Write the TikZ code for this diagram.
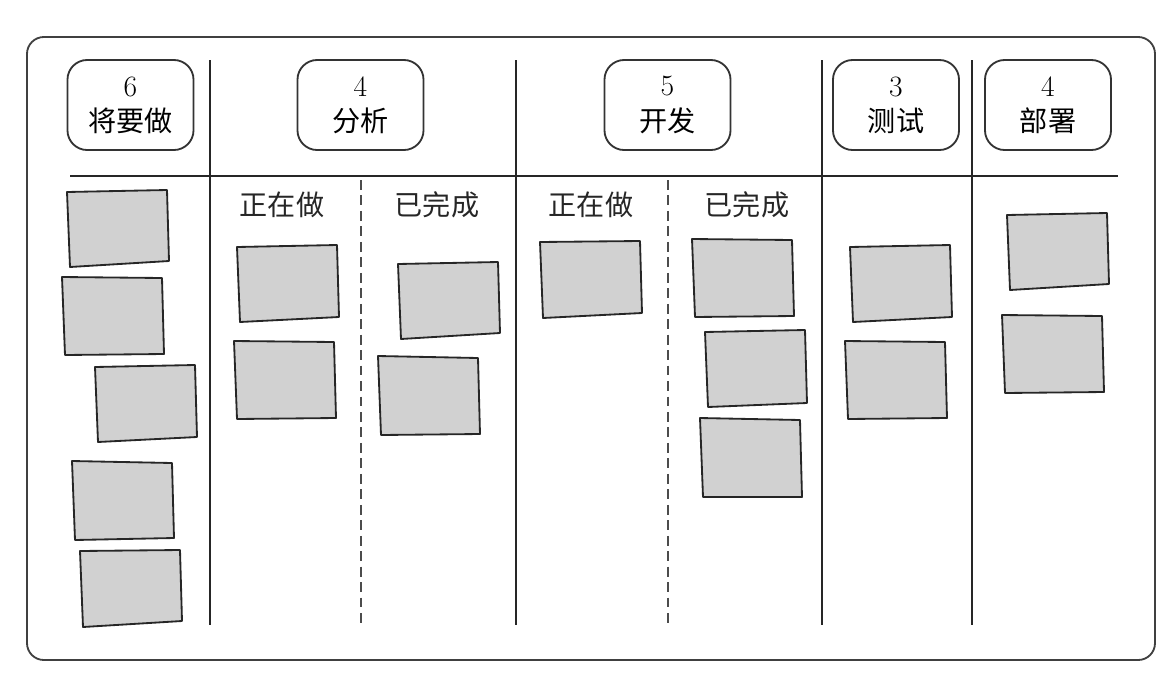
\documentclass[tikz,border=0pt]{standalone}
\usepackage{fontspec}
\newfontfamily\cjk{Noto Sans CJK SC}
\begin{document}
\begin{tikzpicture}[x=0.025cm,y=-0.025cm,
    stage/.style={draw=black!80,line width=1.3pt,rounded corners=14pt,minimum width=3.15cm,minimum height=2.25cm,align=center,font=\fontsize{21}{24}\selectfont,inner sep=0pt},
    sub/.style={font=\cjk\fontsize{20}{22}\selectfont,black!85},
    card/.style={fill=black!18,draw=black!85,line width=1.3pt,line join=round}]
    % Board frame
    \useasboundingbox (0,0) rectangle (1170,698);
    \draw[black!75,line width=1.3pt,rounded corners=12pt] (27,37) rectangle (1155,660);

    % Column separators
    \foreach \x in {210,516,822,972}
        \draw[black!85,line width=1.2pt] (\x,60) -- (\x,625);
    \foreach \x in {361,668}
        \draw[black!70,line width=1.2pt,dash pattern=on 7pt off 4pt] (\x,180) -- (\x,625);
    \draw[black!85,line width=1.2pt] (70,176) -- (1118,176);

    % Stage headers
    \node[stage] (todo)   at (130.5,105) {6\\[1pt]{\cjk\fontsize{20}{22}\selectfont 将要做}};
    \node[stage] (anal)   at (360.5,105) {4\\[1pt]{\cjk\fontsize{20}{22}\selectfont 分析}};
    \node[stage] (dev)    at (667.5,105) {5\\[1pt]{\cjk\fontsize{20}{22}\selectfont 开发}};
    \node[stage] (test)   at (896,105)   {3\\[1pt]{\cjk\fontsize{20}{22}\selectfont 测试}};
    \node[stage] (deploy) at (1048,105)  {4\\[1pt]{\cjk\fontsize{20}{22}\selectfont 部署}};

    % Sub columns
    \node[sub] (adoing) at (282,205) {正在做};
    \node[sub] (adone)  at (437,205) {已完成};
    \node[sub] (ddoing) at (591,205) {正在做};
    \node[sub] (ddone)  at (747,205) {已完成};

    % Cards
    \foreach \x/\y/\a/\b in {67/190/2/-3, 62/278/-1/2, 95/365/2/-2, 72/463/-2/1, 80/550/1/-3,
        237/245/2/-2, 234/342/-1/2, 398/262/2/-3, 378/358/-2/2,
        540/241/1/-2,
        692/240/-1/2, 705/330/2/-1, 700/420/-2/3,
        850/245/2/-2, 845/342/-1/2,
        1007/213/2/-3, 1002/316/-1/2}
        \draw[card] (\x,\y+\a) -- (\x+100,\y) -- (\x+102,\y+74+\b) -- (\x+3,\y+77) -- cycle;
\end{tikzpicture}
\end{document}
